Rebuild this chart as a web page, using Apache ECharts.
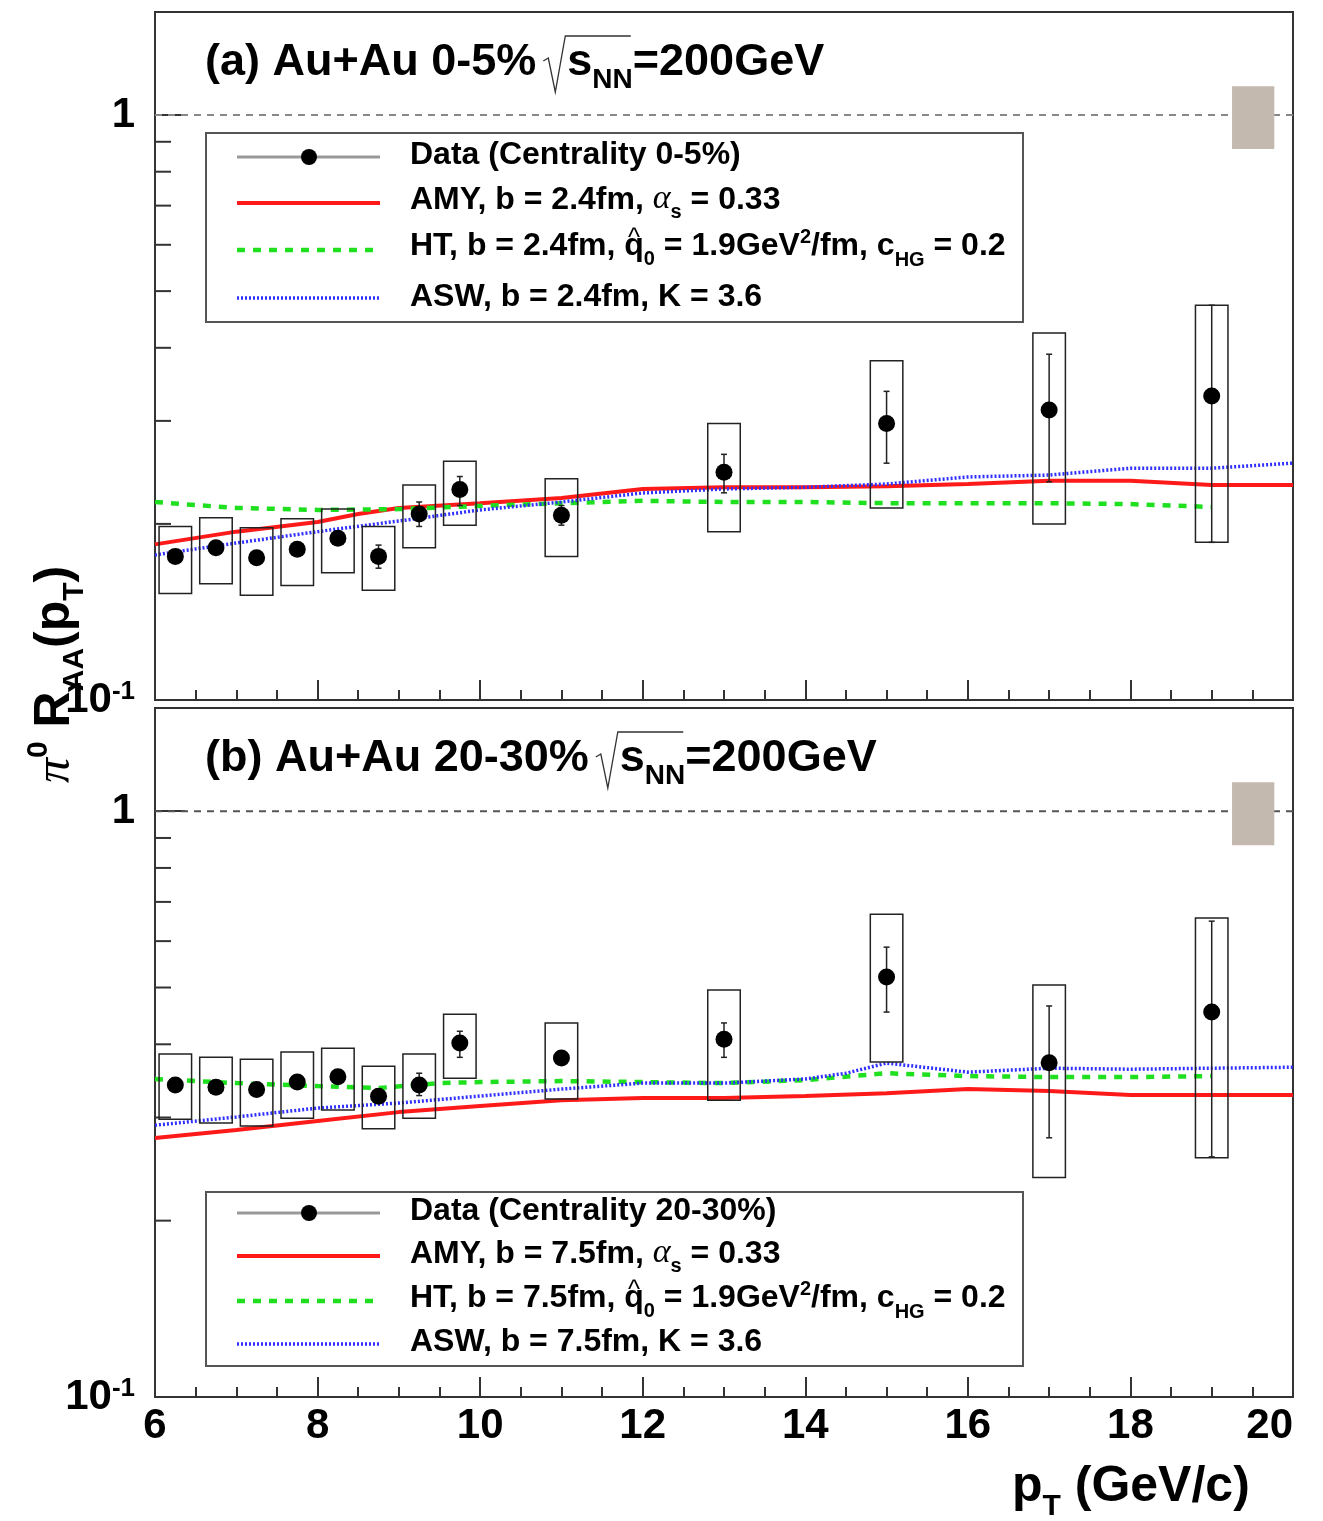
<!DOCTYPE html>
<html>
<head>
<meta charset="utf-8">
<script src="https://cdn.jsdelivr.net/npm/echarts@6/dist/echarts.min.js"></script>
<style>
html, body { margin: 0; padding: 0; background: #fff; }
#main { width: 1323px; height: 1521px; }
</style>
</head>
<body>
<div id="main"></div>
<script>
// pT bin centres of the pi0 points (GeV/c)
var ptBins = [6.25, 6.75, 7.25, 7.75, 8.25, 8.75, 9.25, 9.75, 11, 13, 15, 17, 19];

// (a) Au+Au 0-5%
var raaA    = [0.176, 0.182, 0.175, 0.181, 0.189, 0.176, 0.208, 0.229, 0.207, 0.245, 0.297, 0.313, 0.331];
var statLoA = [0.172, 0.178, 0.171, 0.177, 0.184, 0.168, 0.198, 0.215, 0.199, 0.226, 0.254, 0.236, 0.186];
var statHiA = [0.180, 0.186, 0.179, 0.185, 0.194, 0.184, 0.218, 0.241, 0.215, 0.263, 0.337, 0.390, 0.473];
var sysLoA  = [0.152, 0.158, 0.151, 0.157, 0.165, 0.154, 0.182, 0.199, 0.176, 0.194, 0.213, 0.200, 0.186];
var sysHiA  = [0.198, 0.205, 0.197, 0.204, 0.212, 0.198, 0.233, 0.256, 0.239, 0.297, 0.380, 0.424, 0.473];

var amyXA = [6, 7, 8, 8.5, 9, 10, 11, 12, 13, 14, 15, 16, 17, 18, 19, 20];
var amyYA = [0.1845, 0.194, 0.2015, 0.208, 0.213, 0.217, 0.2215, 0.2295, 0.231, 0.231, 0.232, 0.234, 0.237, 0.237, 0.233, 0.233];
var htXA  = [6, 6.5, 7, 8, 9, 10, 11, 12, 13, 14, 15, 16, 17, 18, 19];
var htYA  = [0.218, 0.2154, 0.213, 0.2113, 0.212, 0.2147, 0.217, 0.219, 0.218, 0.218, 0.217, 0.217, 0.217, 0.2162, 0.2138];
var aswXA = [6, 7, 8, 9, 10, 11, 12, 13, 14, 15, 16, 17, 18, 19, 20];
var aswYA = [0.177, 0.1855, 0.194, 0.2023, 0.2113, 0.218, 0.2259, 0.2295, 0.231, 0.234, 0.2406, 0.2424, 0.249, 0.249, 0.254];

// (b) Au+Au 20-30%
var raaB    = [0.341, 0.338, 0.335, 0.345, 0.352, 0.326, 0.341, 0.402, 0.379, 0.408, 0.521, 0.372, 0.454];
var statLoB = [0.334, 0.331, 0.328, 0.338, 0.345, 0.318, 0.327, 0.380, 0.370, 0.380, 0.454, 0.277, 0.257];
var statHiB = [0.348, 0.345, 0.342, 0.352, 0.359, 0.334, 0.357, 0.421, 0.388, 0.435, 0.586, 0.465, 0.649];
var sysLoB  = [0.298, 0.2935, 0.290, 0.299, 0.309, 0.287, 0.299, 0.350, 0.3225, 0.321, 0.373, 0.237, 0.256];
var sysHiB  = [0.385, 0.380, 0.377, 0.388, 0.394, 0.367, 0.385, 0.450, 0.435, 0.495, 0.667, 0.505, 0.657];

var amyXB = [6, 7, 8, 9, 10, 11, 12, 13, 14, 15, 16, 17, 18, 19, 20];
var amyYB = [0.2767, 0.2855, 0.2958, 0.3064, 0.3138, 0.321, 0.3238, 0.3238, 0.3264, 0.330, 0.3354, 0.3328, 0.3276, 0.3276, 0.3276];
var htXB  = [6, 7, 8, 8.75, 9.5, 10, 11, 12, 13, 14, 15, 16, 17, 18, 19];
var htYB  = [0.349, 0.3434, 0.3394, 0.3368, 0.3434, 0.3448, 0.3462, 0.3448, 0.3434, 0.3475, 0.357, 0.353, 0.3516, 0.3516, 0.353];
var aswXB = [6, 7, 8, 9, 10, 11, 12, 13, 14, 14.5, 15, 16, 17, 18, 19, 20];
var aswYB = [0.291, 0.3006, 0.3113, 0.3175, 0.3264, 0.3354, 0.3434, 0.3434, 0.349, 0.357, 0.3715, 0.3585, 0.3641, 0.3627, 0.3641, 0.3655];

// normalisation uncertainty box at RAA = 1, same for both panels
var normX = [19.51];
var normLo = [0.875];
var normHi = [1.12];

var unityX = [6, 20];
var yMinorTicks = [0.2, 0.3, 0.4, 0.5, 0.6, 0.7, 0.8, 0.9];

var SANS = '"Liberation Sans"';
var SERIF = '"Liberation Serif"';
var BOX_HW = 0.2;   // half width of the systematic boxes (GeV/c)
var NORM_HW = 0.26;

var ctx = document.createElement('canvas').getContext('2d');

function zip(xs, ys) {
  return xs.map(function (x, i) { return [x, ys[i]]; });
}

function fontOf(p, size) {
  return (p.st || 'normal') + ' ' + (p.w || 'bold') + ' ' + size + 'px ' + (p.f || SANS);
}

// lays text pieces out on one baseline, measuring each piece
function textRun(x0, base, parts, size) {
  var els = [], x = x0;
  parts.forEach(function (p) {
    if (typeof p === 'string') p = { t: p };
    var s = p.s || size;
    var font = fontOf(p, s);
    ctx.font = font;
    var w = ctx.measureText(p.t).width;
    els.push({
      type: 'text', x: x, y: base + (p.dy || 0) - 0.35 * s,
      style: { text: p.t, font: font, fill: '#000', align: 'left', verticalAlign: 'middle' }
    });
    if (p.hat) {
      els.push({
        type: 'text', x: x + w / 2, y: base - 0.35 * s - 0.2 * s,
        style: { text: '^', font: fontOf({ w: 'normal' }, s * 0.8), fill: '#000', align: 'center', verticalAlign: 'middle' }
      });
    }
    x += w;
  });
  return { els: els, end: x };
}

function titleEls(x, base, lead) {
  var r1 = textRun(x, base, [lead], 45);
  var rx = r1.end + 7;
  var r2 = textRun(rx + 24, base, ['s', { t: 'NN', s: 28, dy: 12 }], 45);
  var r3 = textRun(r2.end, base, ['=200GeV'], 45);
  var rad = {
    type: 'polyline',
    shape: { points: [[rx, base - 17], [rx + 5, base - 20], [rx + 12, base + 14], [rx + 22, base - 42], [r2.end - 2, base - 42]] },
    style: { stroke: '#333', lineWidth: 1.3, fill: null }
  };
  return r1.els.concat([rad], r2.els, r3.els);
}

function legendEls(box, rows, labels, lineYs) {
  var els = [{
    type: 'rect', shape: box,
    style: { fill: '#fff', stroke: '#555', lineWidth: 2 }
  }];
  var styles = [
    { stroke: '#999', lineWidth: 3 },
    { stroke: '#ff1a1a', lineWidth: 4 },
    { stroke: '#1ee01e', lineWidth: 4.5, lineDash: [8, 8] },
    { stroke: '#3030ff', lineWidth: 3.5, lineDash: [2, 2] }
  ];
  lineYs.forEach(function (y, i) {
    els.push({ type: 'line', shape: { x1: 237, y1: y, x2: 380, y2: y }, style: styles[i] });
  });
  els.push({ type: 'circle', shape: { cx: 309, cy: lineYs[0], r: 8 }, style: { fill: '#000' } });
  labels.forEach(function (parts, i) {
    els = els.concat(textRun(410, rows[i], parts, 32).els);
  });
  return els;
}

function legendLabels(b) {
  return [
    ['Data (Centrality ' + b[0] + ')'],
    ['AMY, b = ' + b[1] + 'fm, ', { t: 'α', f: SERIF, w: 'normal', st: 'italic', s: 34 }, { t: 's', s: 20, dy: 8 }, ' = 0.33'],
    ['HT, b = ' + b[1] + 'fm, ', { t: 'q', hat: true }, { t: '0', s: 20, dy: 9 }, ' = 1.9GeV', { t: '2', s: 20, dy: -13 }, '/fm, c', { t: 'HG', s: 20, dy: 10 }, ' = 0.2'],
    ['ASW, b = ' + b[1] + 'fm, K = 3.6']
  ];
}

function yLabel(v) {
  if (Math.abs(v - 1) < 1e-6) return '{n|1}';
  if (Math.abs(v - 0.1) < 1e-6) return '{n|10}{s|-1}';
  return '';
}

function panelSeries(i, d) {
  return [
    {
      type: 'line', xAxisIndex: i, yAxisIndex: i, z: 1,
      data: zip(unityX, [1, 1]), symbol: 'none', silent: true,
      lineStyle: { color: d.unityColor, width: 2, type: [7, 6] }
    },
    {
      type: 'custom', xAxisIndex: i, yAxisIndex: i, z: 2, silent: true,
      data: normX.map(function (x, k) { return [x, normLo[k], normHi[k]]; }),
      encode: { x: 0, y: [1, 2] },
      renderItem: function (params, api) {
        var x = api.value(0);
        var a = api.coord([x - NORM_HW, api.value(2)]);
        var b = api.coord([x + NORM_HW, api.value(1)]);
        return { type: 'rect', shape: { x: a[0], y: a[1], width: b[0] - a[0], height: b[1] - a[1] }, style: { fill: '#c3b9af' } };
      }
    },
    {
      type: 'custom', xAxisIndex: i, yAxisIndex: i, z: 2, silent: true,
      data: yMinorTicks.map(function (v) { return [6, v]; }),
      encode: { x: 0, y: 1 },
      renderItem: function (params, api) {
        var p = api.coord([api.value(0), api.value(1)]);
        return { type: 'line', shape: { x1: p[0], y1: p[1], x2: p[0] + 16, y2: p[1] }, style: { stroke: '#333', lineWidth: 2 } };
      }
    },
    {
      name: 'AMY', type: 'line', xAxisIndex: i, yAxisIndex: i, z: 3,
      data: zip(d.amyX, d.amyY), symbol: 'none',
      lineStyle: { color: '#ff1a1a', width: 4 }
    },
    {
      name: 'HT', type: 'line', xAxisIndex: i, yAxisIndex: i, z: 3,
      data: zip(d.htX, d.htY), symbol: 'none',
      lineStyle: { color: '#1ee01e', width: 4.5, type: [8, 8] }
    },
    {
      name: 'ASW', type: 'line', xAxisIndex: i, yAxisIndex: i, z: 3,
      data: zip(d.aswX, d.aswY), symbol: 'none',
      lineStyle: { color: '#3030ff', width: 3.5, type: [2, 2] }
    },
    {
      type: 'custom', xAxisIndex: i, yAxisIndex: i, z: 4, silent: true,
      data: ptBins.map(function (x, k) { return [x, d.raa[k], d.statLo[k], d.statHi[k], d.sysLo[k], d.sysHi[k]]; }),
      encode: { x: 0, y: [4, 5] },
      renderItem: function (params, api) {
        var x = api.value(0);
        var a = api.coord([x - BOX_HW, api.value(5)]);
        var b = api.coord([x + BOX_HW, api.value(4)]);
        var t = api.coord([x, api.value(3)]);
        var u = api.coord([x, api.value(2)]);
        var st = { stroke: '#222', lineWidth: 1.5 };
        return {
          type: 'group', children: [
            { type: 'rect', shape: { x: a[0], y: a[1], width: b[0] - a[0], height: b[1] - a[1] }, style: { fill: 'none', stroke: '#222', lineWidth: 1.5 } },
            { type: 'line', shape: { x1: t[0], y1: t[1], x2: u[0], y2: u[1] }, style: st },
            { type: 'line', shape: { x1: t[0] - 3, y1: t[1], x2: t[0] + 3, y2: t[1] }, style: st },
            { type: 'line', shape: { x1: u[0] - 3, y1: u[1], x2: u[0] + 3, y2: u[1] }, style: st }
          ]
        };
      }
    },
    {
      name: 'Data', type: 'scatter', xAxisIndex: i, yAxisIndex: i, z: 5,
      data: zip(ptBins, d.raa), symbol: 'circle', symbolSize: 17,
      itemStyle: { color: '#000', opacity: 1 }
    }
  ];
}

function xAxis(i, showLabel) {
  return {
    type: 'value', gridIndex: i, min: 6, max: 20, interval: 2,
    axisLine: { show: true, onZero: false, lineStyle: { color: '#333', width: 2 } },
    axisTick: { show: true, inside: true, length: 20, lineStyle: { color: '#333', width: 2 } },
    minorTick: { show: true, splitNumber: 4, length: 10, lineStyle: { color: '#333', width: 2 } },
    splitLine: { show: false },
    axisLabel: {
      show: showLabel, margin: 8, color: '#000', fontSize: 42, fontWeight: 'bold', fontFamily: SANS,
      alignMaxLabel: 'right'
    }
  };
}

function yAxis(i) {
  return {
    type: 'log', logBase: 10, gridIndex: i, min: 0.1, max: 1.5,
    axisLine: { show: true, onZero: false, lineStyle: { color: '#333', width: 2 } },
    axisTick: { show: true, inside: true, length: 30, lineStyle: { color: '#333', width: 2 } },
    splitLine: { show: false },
    axisLabel: {
      margin: 20, formatter: yLabel,
      rich: {
        n: { fontSize: 42, fontWeight: 'bold', fontFamily: SANS, color: '#000' },
        s: { fontSize: 26, fontWeight: 'bold', fontFamily: SANS, color: '#000', verticalAlign: 'top' }
      }
    }
  };
}

var panelA = {
  raa: raaA, statLo: statLoA, statHi: statHiA, sysLo: sysLoA, sysHi: sysHiA,
  amyX: amyXA, amyY: amyYA, htX: htXA, htY: htYA, aswX: aswXA, aswY: aswYA, unityColor: '#888'
};
var panelB = {
  raa: raaB, statLo: statLoB, statHi: statHiB, sysLo: sysLoB, sysHi: sysHiB,
  amyX: amyXB, amyY: amyYB, htX: htXB, htY: htYB, aswX: aswXB, aswY: aswYB, unityColor: '#555'
};

var yTitle = textRun(0, 0, [
  { t: 'π', f: SERIF, w: 'normal', st: 'italic' }, { t: '0', s: 30, dy: -24 }, ' R',
  { t: 'AA', s: 30, dy: 12 }, '(p', { t: 'T', s: 30, dy: 12 }, ')'
], 50);

var graphics = []
  .concat(titleEls(205, 78, '(a) Au+Au 0-5%'))
  .concat(titleEls(205, 774, '(b) Au+Au 20-30%'))
  .concat(legendEls({ x: 206, y: 133, width: 817, height: 189 }, [166, 211, 257, 308], legendLabels(['0-5%', '2.4']), [157, 203, 250, 298]))
  .concat(legendEls({ x: 206, y: 1192, width: 817, height: 174 }, [1222, 1265, 1309, 1353], legendLabels(['20-30%', '7.5']), [1213, 1256, 1301, 1344]))
  .concat(textRun(1012, 1505, ['p', { t: 'T', s: 30, dy: 12 }, ' (GeV/c)'], 50).els)
  .concat([{ type: 'group', x: 73, y: 783, rotation: Math.PI / 2, children: yTitle.els }]);

var chart = echarts.init(document.getElementById('main'), null, { renderer: 'canvas' });
chart.setOption({
  backgroundColor: '#fff',
  animation: false,
  grid: [
    { left: 155, top: 12, width: 1138, height: 688, show: true, borderColor: '#333', borderWidth: 2 },
    { left: 155, top: 708, width: 1138, height: 689, show: true, borderColor: '#333', borderWidth: 2 }
  ],
  xAxis: [xAxis(0, false), xAxis(1, true)],
  yAxis: [yAxis(0), yAxis(1)],
  series: panelSeries(0, panelA).concat(panelSeries(1, panelB)),
  graphic: { elements: graphics }
});
</script>
</body>
</html>
